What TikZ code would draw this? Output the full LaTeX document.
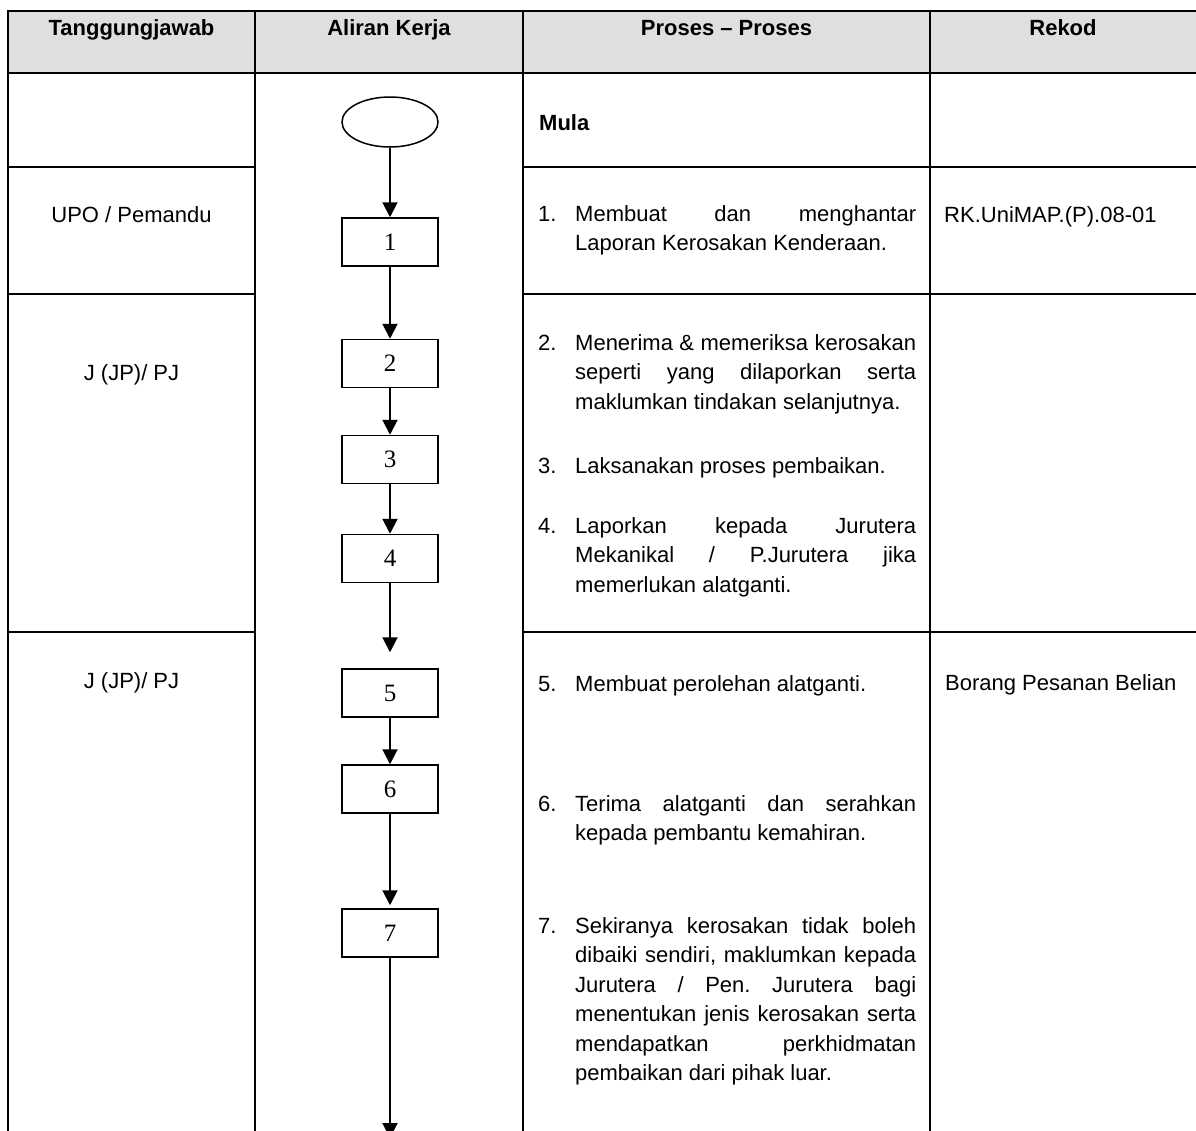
\documentclass[tikz,border=0pt]{standalone}
\usepackage{fontspec}
\setmainfont{Liberation Sans}
\newfontfamily\serifdigits{Liberation Serif}
\usetikzlibrary{shapes.geometric,arrows.meta}
\definecolor{headgray}{HTML}{DFDFDF}
\newcommand{\jline}[1]{\hbox to 341pt{#1}}
\newcommand{\pline}[1]{\hbox{#1}}
\frenchspacing
\begin{document}
\begin{tikzpicture}[x=1pt,y=-1pt,
  tline/.style={line width=2.2pt},
  flowbox/.style={draw, line width=1.5pt, minimum width=96pt, minimum height=48pt, inner sep=0pt, font=\serifdigits\fontsize{25}{30}\selectfont},
  startshape/.style={ellipse, draw, line width=1.5pt, minimum width=96pt, minimum height=50pt, inner sep=0pt},
  flowarrow/.style={line width=2pt, -{Triangle[width=15pt,length=15pt]}},
  bodytext/.style={font=\fontsize{22}{29.5}\selectfont, inner sep=0pt, anchor=base west},
  celltext/.style={font=\fontsize{22}{29.5}\selectfont, inner sep=0pt, anchor=base},
  headtext/.style={font=\bfseries\fontsize{22}{26}\selectfont, inner sep=0pt, anchor=base}]
\useasboundingbox (0,0) rectangle (1196,1130);
% header
\fill[headgray] (8,11) rectangle (1210,73);
\draw[tline] (1210,11) -- (8,11) -- (8,1140);
\draw[tline] (8,73) -- (1210,73);
\draw[tline] (255,11) -- (255,1140);
\draw[tline] (523,11) -- (523,1140);
\draw[tline] (930,11) -- (930,1140);
\foreach \yy in {167,294,632}{
  \draw[tline] (8,\yy) -- (255,\yy);
  \draw[tline] (523,\yy) -- (1210,\yy);
}
\node[headtext] (h1) at (131.5,35) {Tanggungjawab};
\node[headtext] (h2) at (389,35) {Aliran Kerja};
\node[headtext] (h3) at (726.5,35) {Proses – Proses};
\node[headtext] (h4) at (1063,35) {Rekod};
% column 1
\node[celltext] (r1) at (131.5,222) {UPO / Pemandu};
\node[celltext] (r2) at (131.5,380) {J (JP)/ PJ};
\node[celltext] (r3) at (131.5,688) {J (JP)/ PJ};
% flow
\node[startshape] (start) at (390,122) {};
\node[flowbox] (b1) at (390,242) {1};
\node[flowbox] (b2) at (390,363.5) {2};
\node[flowbox] (b3) at (390,459.5) {3};
\node[flowbox] (b4) at (390,558.5) {4};
\node[flowbox] (b5) at (390,693) {5};
\node[flowbox] (b6) at (390,789) {6};
\node[flowbox] (b7) at (390,933) {7};
\coordinate (tail) at (390,1138);
\draw[flowarrow] (start) -- (b1);
\draw[flowarrow] (b1) -- (b2);
\draw[flowarrow] (b2) -- (b3);
\draw[flowarrow] (b3) -- (b4);
\draw[flowarrow, shorten >=16pt] (b4) -- (b5);
\draw[flowarrow] (b5) -- (b6);
\draw[flowarrow, shorten >=3pt] (b6) -- (b7);
\draw[flowarrow] (b7) -- (tail);
% column 3
\node[headtext, anchor=base west] (mula) at (539,130) {Mula};
\node[bodytext] (n1) at (538,221) {1.};
\node[bodytext] (t1) at (575,221) {\vtop{\jline{Membuat dan menghantar}\pline{Laporan Kerosakan Kenderaan.}}};
\node[bodytext] (n2) at (538,350) {2.};
\node[bodytext] (t2) at (575,350) {\vtop{\jline{Menerima \& memeriksa kerosakan}\jline{seperti yang dilaporkan serta}\pline{maklumkan tindakan selanjutnya.}}};
\node[bodytext] (n3) at (538,473) {3.};
\node[bodytext] (t3) at (575,473) {Laksanakan proses pembaikan.};
\node[bodytext] (n4) at (538,533) {4.};
\node[bodytext] (t4) at (575,533) {\vtop{\jline{Laporkan kepada Jurutera}\jline{Mekanikal / P.Jurutera jika}\pline{memerlukan alatganti.}}};
\node[bodytext] (n5) at (538,691) {5.};
\node[bodytext] (t5) at (575,691) {Membuat perolehan alatganti.};
\node[bodytext] (n6) at (538,811) {6.};
\node[bodytext] (t6) at (575,811) {\vtop{\jline{Terima alatganti dan serahkan}\pline{kepada pembantu kemahiran.}}};
\node[bodytext] (n7) at (538,933) {7.};
\node[bodytext] (t7) at (575,933) {\vtop{\jline{Sekiranya kerosakan tidak boleh}\jline{dibaiki sendiri, maklumkan kepada}\jline{Jurutera / Pen. Jurutera bagi}\jline{menentukan jenis kerosakan serta}\jline{mendapatkan perkhidmatan}\pline{pembaikan dari pihak luar.}}};
% column 4
\node[bodytext] (k1) at (944,222) {RK.UniMAP.(P).08-01};
\node[bodytext] (k2) at (945,690) {Borang Pesanan Belian};
\end{tikzpicture}
\end{document}
